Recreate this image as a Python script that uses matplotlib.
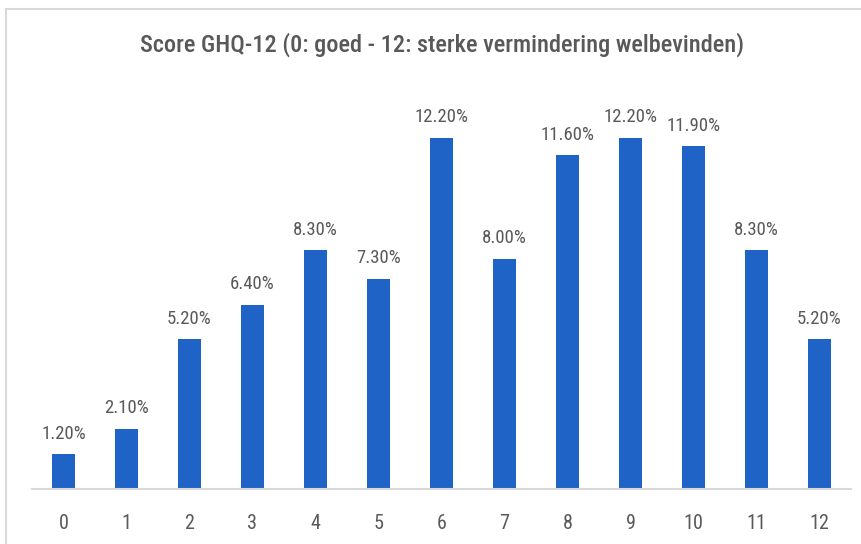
import matplotlib
matplotlib.use("Agg")
import matplotlib.pyplot as plt
from matplotlib.lines import Line2D

categories = [str(i) for i in range(13)]
values = [1.2, 2.1, 5.2, 6.4, 8.3, 7.3, 12.2, 8.0, 11.6, 12.2, 11.9, 8.3, 5.2]
title = "Score GHQ-12 (0: goed - 12: sterke vermindering welbevinden)"

plt.rcParams['font.family'] = ['Roboto Condensed', 'Roboto', 'DejaVu Sans']
W, H = 861, 544
fig = plt.figure(figsize=(W/100, H/100), dpi=100)
ax = fig.add_axes([32/W, 1-489/H, (851-32)/W, (489-86)/H])

x = list(range(len(categories)))
ax.bar(x, values, width=0.35, color='#1f63c6')
ax.set_xlim(-0.5, 12.5)
ax.set_ylim(0, 14)
for xi, v in zip(x, values):
    ax.text(xi, v + 0.4, f"{v:.2f}%", ha='center', va='bottom', fontsize=13.5, color='#595959')
ax.set_xticks(x)
ax.set_xticklabels(categories, fontsize=14.5, color='#595959')
ax.tick_params(axis='x', length=0, pad=18)
ax.set_yticks([])
for s in ['top', 'right', 'left']:
    ax.spines[s].set_visible(False)
ax.spines['bottom'].set_color('#d9d9d9')
ax.spines['bottom'].set_linewidth(1.5)

fig.text(442/W, 1-45/H, title, ha='center', va='center', fontsize=17.5, color='#595959', fontweight='medium')

fig.add_artist(Line2D([6/W, 1], [1-9/H, 1-9/H], color='#d9d9d9', lw=1.5, transform=fig.transFigure))
fig.add_artist(Line2D([6/W, 6/W], [0, 1-9/H], color='#d9d9d9', lw=1.5, transform=fig.transFigure))

fig.savefig("out.png", dpi=100)
